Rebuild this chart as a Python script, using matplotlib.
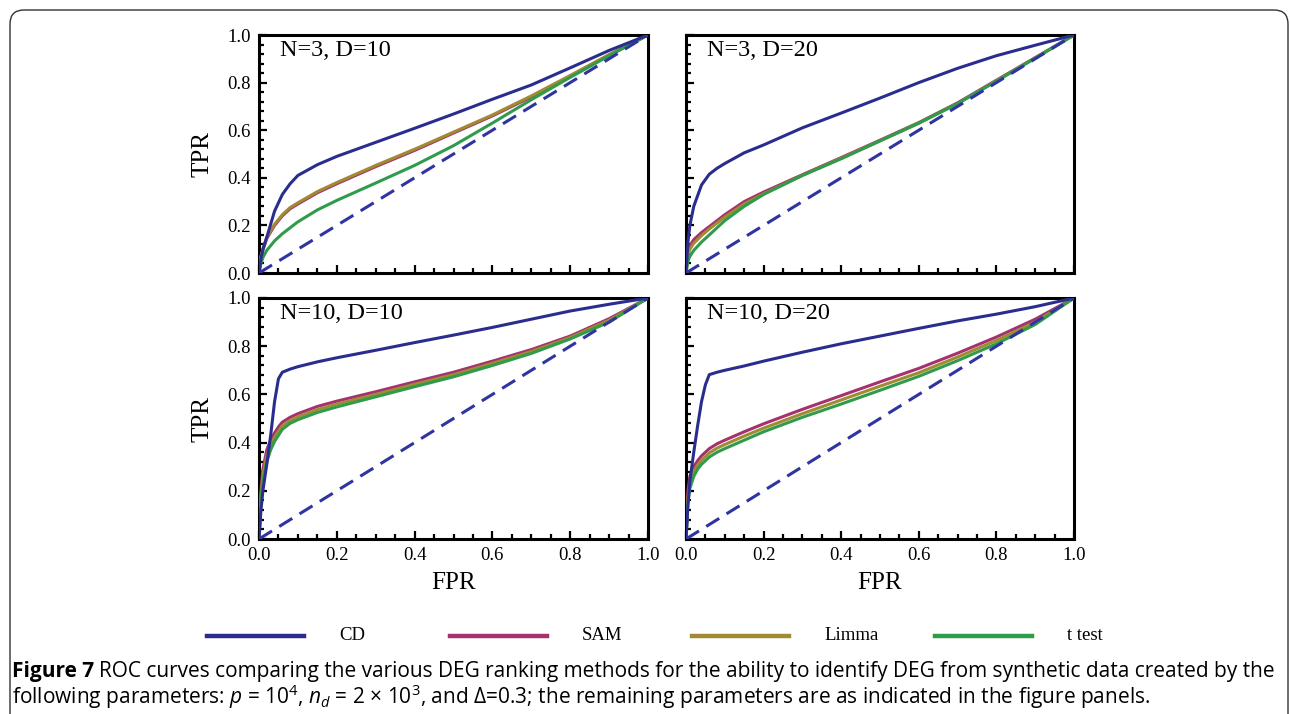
import matplotlib
matplotlib.use("Agg")
import matplotlib.pyplot as plt
from matplotlib.patches import FancyBboxPatch
from matplotlib.lines import Line2D
from matplotlib.ticker import MultipleLocator

# ROC data (FPR grid per panel, TPR per method)
methods = ["CD", "SAM", "Limma", "t test"]
colors = ["#2b2d8e", "#a5326f", "#a08b33", "#2f9b4b"]
panel_titles = ["N=3, D=10", "N=3, D=20", "N=10, D=10", "N=10, D=20"]

fpr_n3 = [0, 0.005, 0.01, 0.02, 0.04, 0.06, 0.08, 0.1, 0.15, 0.2, 0.3, 0.4, 0.5, 0.6, 0.7, 0.8, 0.9, 1.0]
fpr_n10 = [0, 0.005, 0.01, 0.02, 0.03, 0.04, 0.05, 0.06, 0.08, 0.1, 0.15, 0.2, 0.3, 0.4, 0.5, 0.6, 0.7, 0.8, 0.9, 1.0]

# N=3, D=10
cd_n3d10 = [0, 0.06, 0.10, 0.15, 0.26, 0.33, 0.375, 0.41, 0.455, 0.49, 0.549, 0.608, 0.668, 0.73, 0.79, 0.862, 0.935, 1.0]
sam_n3d10 = [0, 0.066, 0.096, 0.145, 0.2, 0.24, 0.27, 0.29, 0.337, 0.375, 0.447, 0.515, 0.588, 0.66, 0.74, 0.826, 0.915, 1.0]
limma_n3d10 = [0, 0.07, 0.10, 0.15, 0.205, 0.245, 0.275, 0.295, 0.342, 0.38, 0.452, 0.52, 0.592, 0.664, 0.744, 0.83, 0.918, 1.0]
ttest_n3d10 = [0, 0.04, 0.065, 0.095, 0.135, 0.165, 0.19, 0.215, 0.265, 0.305, 0.378, 0.452, 0.535, 0.63, 0.728, 0.822, 0.913, 1.0]

# N=3, D=20
cd_n3d20 = [0, 0.13, 0.2, 0.28, 0.37, 0.415, 0.44, 0.46, 0.505, 0.538, 0.61, 0.672, 0.735, 0.8, 0.86, 0.913, 0.957, 1.0]
sam_n3d20 = [0, 0.09, 0.115, 0.14, 0.17, 0.195, 0.22, 0.245, 0.30, 0.34, 0.413, 0.485, 0.558, 0.632, 0.715, 0.81, 0.905, 1.0]
limma_n3d20 = [0, 0.075, 0.10, 0.125, 0.157, 0.185, 0.21, 0.235, 0.29, 0.333, 0.41, 0.482, 0.555, 0.629, 0.712, 0.807, 0.903, 1.0]
ttest_n3d20 = [0, 0.05, 0.07, 0.095, 0.13, 0.16, 0.19, 0.22, 0.28, 0.33, 0.41, 0.48, 0.555, 0.63, 0.712, 0.806, 0.903, 1.0]

# N=10, D=10
cd_n10d10 = [0, 0.12, 0.2, 0.31, 0.43, 0.57, 0.665, 0.692, 0.705, 0.715, 0.735, 0.752, 0.783, 0.815, 0.846, 0.878, 0.912, 0.946, 0.974, 1.0]
sam_n10d10 = [0, 0.2, 0.29, 0.37, 0.41, 0.44, 0.465, 0.485, 0.505, 0.52, 0.55, 0.572, 0.611, 0.652, 0.692, 0.738, 0.786, 0.842, 0.914, 1.0]
limma_n10d10 = [0, 0.18, 0.265, 0.345, 0.39, 0.422, 0.447, 0.47, 0.492, 0.507, 0.537, 0.56, 0.6, 0.642, 0.682, 0.729, 0.778, 0.836, 0.908, 1.0]
ttest_n10d10 = [0, 0.16, 0.24, 0.32, 0.37, 0.405, 0.43, 0.455, 0.48, 0.495, 0.525, 0.548, 0.59, 0.632, 0.673, 0.72, 0.77, 0.83, 0.9, 1.0]

# N=10, D=20
cd_n10d20 = [0, 0.14, 0.24, 0.36, 0.47, 0.57, 0.64, 0.682, 0.692, 0.70, 0.718, 0.738, 0.775, 0.81, 0.842, 0.874, 0.905, 0.933, 0.964, 1.0]
sam_n10d20 = [0, 0.2, 0.26, 0.3, 0.325, 0.345, 0.36, 0.375, 0.395, 0.41, 0.445, 0.478, 0.538, 0.595, 0.652, 0.708, 0.771, 0.838, 0.912, 1.0]
limma_n10d20 = [0, 0.175, 0.235, 0.28, 0.307, 0.327, 0.342, 0.357, 0.377, 0.392, 0.427, 0.46, 0.52, 0.577, 0.634, 0.69, 0.755, 0.824, 0.9, 1.0]
ttest_n10d20 = [0, 0.15, 0.21, 0.26, 0.29, 0.31, 0.325, 0.34, 0.36, 0.375, 0.41, 0.445, 0.505, 0.56, 0.617, 0.675, 0.74, 0.81, 0.89, 1.0]

panels = [
    (fpr_n3, [cd_n3d10, sam_n3d10, limma_n3d10, ttest_n3d10]),
    (fpr_n3, [cd_n3d20, sam_n3d20, limma_n3d20, ttest_n3d20]),
    (fpr_n10, [cd_n10d10, sam_n10d10, limma_n10d10, ttest_n10d10]),
    (fpr_n10, [cd_n10d20, sam_n10d20, limma_n10d20, ttest_n10d20]),
]

serif = "Liberation Serif"
W, H = 1290, 714
fig = plt.figure(figsize=(W / 100, H / 100), dpi=100)

# rounded frame around the figure
frame = FancyBboxPatch((0.10, -0.4), 12.78, 7.04 + 0.4,
                       boxstyle="round,pad=0,rounding_size=0.14",
                       transform=fig.dpi_scale_trans, fill=False,
                       edgecolor="#333333", linewidth=1.0)
fig.patches.append(frame)

# axes boxes in pixels: left, top, right, bottom
boxes = [(259, 35, 648, 273), (686, 35, 1074, 273),
         (259, 298, 648, 539), (686, 298, 1074, 539)]

for i, (fpr, curves) in enumerate(panels):
    l, t, r, b = boxes[i]
    ax = fig.add_axes([l / W, 1 - b / H, (r - l) / W, (b - t) / H])
    for k in [1, 2, 3, 0]:
        ax.plot(fpr, curves[k], color=colors[k], lw=2.2, solid_capstyle="round", zorder=3 + (k == 0))
    ax.plot([0, 1], [0, 1], color="#2f35a0", lw=2.2, ls=(0, (5, 2.8)), zorder=5)
    ax.set_xlim(0, 1)
    ax.set_ylim(0, 1)
    ax.xaxis.set_major_locator(MultipleLocator(0.2))
    ax.xaxis.set_minor_locator(MultipleLocator(0.05))
    ax.yaxis.set_major_locator(MultipleLocator(0.2))
    ax.yaxis.set_minor_locator(MultipleLocator(0.04))
    ax.tick_params(which="both", direction="in", width=1.6, color="black", pad=6)
    ax.tick_params(which="major", length=6)
    ax.tick_params(which="minor", length=3.5)
    for s in ax.spines.values():
        s.set_linewidth(2.2)
    ticks = [0.0, 0.2, 0.4, 0.6, 0.8, 1.0]
    ax.set_xticks(ticks)
    ax.set_yticks(ticks)
    if i < 2:
        ax.set_xticklabels([])
    else:
        ax.set_xticklabels([f"{v:.1f}" for v in ticks], fontfamily=serif, fontsize=13.5)
        ax.set_xlabel("FPR", fontfamily=serif, fontsize=18)
        ax.xaxis.set_label_coords(0.5, -0.135)
    if i % 2 == 1:
        ax.set_yticklabels([])
    else:
        ax.set_yticklabels([f"{v:.1f}" for v in ticks], fontfamily=serif, fontsize=13.5)
        ax.set_ylabel("TPR", fontfamily=serif, fontsize=18)
        ax.yaxis.set_label_coords(-0.118, 0.5)
    ax.text(0.055, 0.935, panel_titles[i], transform=ax.transAxes, fontfamily=serif,
            fontsize=17.5, va="center", ha="left")

# legend row
leg_y = 1 - 636 / H
starts = [207, 450, 692, 935]
for k, name in enumerate(methods):
    x0 = starts[k]
    fig.add_artist(Line2D([x0 / W, (x0 + 97) / W], [leg_y, leg_y], color=colors[k], lw=3.2,
                          transform=fig.transFigure))
    fig.text((x0 + 132) / W, leg_y, name, fontfamily=serif, fontsize=13.5,
             va="center", ha="left")

# caption
cap_font = "Open Sans"
plt.rcParams["mathtext.fontset"] = "custom"
plt.rcParams["mathtext.rm"] = cap_font
plt.rcParams["mathtext.it"] = cap_font + ":italic"
plt.rcParams["mathtext.bf"] = cap_font + ":bold"
cap_size = 15.0
renderer = fig.canvas.get_renderer()
t1 = fig.text(12 / W, 1 - 671 / H, "Figure 7", fontfamily=cap_font, fontweight="bold",
              fontsize=cap_size, va="center", ha="left")
bb = t1.get_window_extent(renderer)
fig.text((bb.x1 + 5) / W, 1 - 671 / H,
         "ROC curves comparing the various DEG ranking methods for the ability to identify DEG from synthetic data created by the",
         fontfamily=cap_font, fontsize=cap_size, va="center", ha="left")
fig.text(12 / W, 1 - 697 / H,
         r"following parameters: $p$ = 10$^4$, $n_d$ = 2 × 10$^3$, and Δ=0.3; the remaining parameters are as indicated in the figure panels.",
         fontfamily=cap_font, fontsize=cap_size, va="center", ha="left")

fig.savefig("out.png", dpi=100)
